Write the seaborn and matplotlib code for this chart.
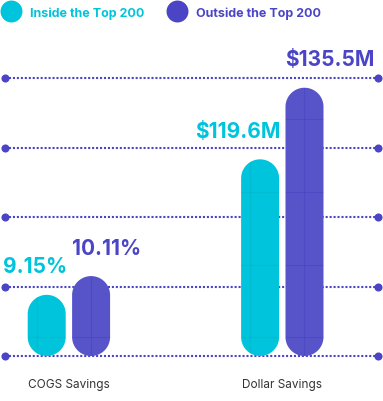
import numpy as np
import pandas as pd
import seaborn as sns
import matplotlib.pyplot as plt
from matplotlib.patches import PathPatch
from matplotlib.path import Path
from matplotlib.lines import Line2D

# ---- data ----
categories = ["COGS Savings", "Dollar Savings"]
series = ["Inside the Top 200", "Outside the Top 200"]
value_labels_inside = ["9.15%", "$119.6M"]
value_labels_outside = ["10.11%", "$135.5M"]
# visual bar heights, in gridline units
heights_inside = [0.88, 2.83]
heights_outside = [1.15, 3.86]
grid_levels = [0, 1, 2, 3, 4]

CYAN = "#00C4DB"
PURPLE = "#5754CA"
PURPLE_TXT = "#4B45C6"
GRID = "#4B45C6"

df = pd.DataFrame({
    "category": categories * 2,
    "series": [series[0]] * 2 + [series[1]] * 2,
    "height": heights_inside + heights_outside,
})
labels = {series[0]: value_labels_inside, series[1]: value_labels_outside}

sns.set_theme(style="white")
plt.rcParams['font.family'] = ['Inter', 'DejaVu Sans']

W, H = 383, 401
fig = plt.figure(figsize=(W / 100, H / 100), dpi=100)
ax = fig.add_axes([0, 0, 1, 1])

sns.barplot(data=df, x="category", y="height", hue="series", order=categories,
            hue_order=series, palette=[CYAN, PURPLE], width=0.416, gap=0.144,
            legend=False, ax=ax, saturation=1)

PX_X = 213.4  # pixels per x unit
PX_Y = 69.5   # pixels per y unit
ax.set_xlim(-68.9 / PX_X, (W - 68.9) / PX_X)
ax.set_ylim(-(H - 356) / PX_Y, 356 / PX_Y)
ax.axis("off")


def pill_path(x, w, h):
    rx = w / 2
    ry = rx * PX_X / PX_Y
    cx = x + rx
    t1 = np.linspace(0, np.pi, 48)
    top = np.c_[cx + rx * np.cos(t1), h - ry + ry * np.sin(t1)]
    t2 = np.linspace(np.pi, 2 * np.pi, 48)
    bot = np.c_[cx + rx * np.cos(t2), ry + ry * np.sin(t2)]
    verts = np.vstack([top, bot, top[:1]])
    codes = [Path.MOVETO] + [Path.LINETO] * (len(verts) - 2) + [Path.CLOSEPOLY]
    return Path(verts, codes)


# gridlines with end dots
xl = (5 - 68.9) / PX_X
xr = (378 - 68.9) / PX_X
ax.hlines(grid_levels, xl, xr, colors=GRID, linewidth=1.5,
          linestyles=(0, (1, 0.9)), zorder=1)
for lv in grid_levels:
    ax.scatter([xl, xr], [lv, lv], s=34, color=GRID, zorder=1, linewidths=0)

# replace bars with pills
for cont, ser in zip(ax.containers, series):
    for bar, lab in zip(cont, labels[ser]):
        x, w, h = bar.get_x(), bar.get_width(), bar.get_height()
        col = bar.get_facecolor()
        bar.set_visible(False)
        pill = PathPatch(pill_path(x, w, h), facecolor=col, edgecolor="none", zorder=3)
        ax.add_patch(pill)
        # subtle tile texture
        dark = "#3F3AB8" if ser == series[1] else "#00AFC6"
        vx = x + w / 2 if ser == series[1] else x + w * 0.24
        ln = ax.vlines(vx, 0, h, colors=dark, linewidth=0.8, alpha=0.35, zorder=4)
        ln.set_clip_path(pill)
        ys = np.arange(18.7 / PX_Y, h, 72.7 / PX_Y)
        hl = ax.hlines(ys, x, x + w, colors=dark, linewidth=0.8, alpha=0.35, zorder=4)
        hl.set_clip_path(pill)
        # value label
        if ser == series[0]:
            ax.annotate(lab, (x + w, h), xytext=(1, 15.5), textcoords="offset points",
                        ha="right", va="baseline", fontsize=15, fontweight="bold",
                        color=CYAN, zorder=5)
        else:
            ax.annotate(lab, (x, h), xytext=(0, 15.5), textcoords="offset points",
                        ha="left", va="baseline", fontsize=15, fontweight="bold",
                        color=PURPLE_TXT, zorder=5)

# category labels
for i, c in enumerate(categories):
    ax.text(i, -(385 - 356) / PX_Y, c, ha="center", va="center",
            fontsize=8.5, color="#333333")

# legend
handles = [Line2D([], [], marker="o", ls="", markersize=15.8, color=CYAN, markeredgewidth=0),
           Line2D([], [], marker="o", ls="", markersize=15.8, color=PURPLE_TXT, markeredgewidth=0)]
leg = ax.legend(handles, series, loc="upper left", bbox_to_anchor=(0, 1 - 4.5 / H), ncol=2,
                frameon=False, borderpad=0, borderaxespad=0, handlelength=1.76,
                handleheight=1.76, handletextpad=0.64, columnspacing=1.76,
                prop={"size": 9, "weight": "bold"})
for t, c in zip(leg.get_texts(), [CYAN, PURPLE_TXT]):
    t.set_color(c)

fig.savefig("out.png", dpi=100)
